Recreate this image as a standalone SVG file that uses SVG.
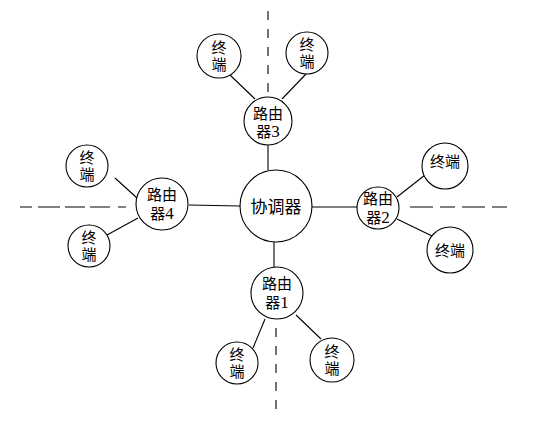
<svg xmlns="http://www.w3.org/2000/svg" width="545" height="422" viewBox="0 0 545 422">
<style>
.n{fill:#fff;stroke:#000;stroke-width:1.1}
.l{stroke:#000;stroke-width:1.1;fill:none}
.d{stroke:#000;stroke-width:1.1;fill:none;stroke-dasharray:9 9}
text{font-family:"Liberation Serif","Noto Sans CJK SC",serif;font-size:15px;fill:#000;text-anchor:middle}
.big{font-size:17px}
.num{font-size:17px}
</style>
<rect width="545" height="422" fill="#fff"/>
<g id="connectors">
<line class="d" x1="268" y1="11" x2="268" y2="95"/>
<line class="d" x1="276" y1="328" x2="276" y2="416"/>
<path class="l" d="M20 207h12M38 207h22M65 207h20M90 207h20M118 207h8"/>
<path class="l" d="M410 207h23M440 207h15M462 207h23M492 207h15"/>
<line class="l" x1="268" y1="145" x2="268" y2="170"/>
<line class="l" x1="189" y1="205" x2="240" y2="206"/>
<line class="l" x1="312" y1="207" x2="357" y2="207"/>
<line class="l" x1="274" y1="242" x2="274" y2="267"/>
<line class="l" x1="230" y1="75" x2="255" y2="99"/>
<line class="l" x1="306" y1="74" x2="282" y2="99"/>
<line class="l" x1="115" y1="178" x2="137" y2="198"/>
<line class="l" x1="107" y1="235" x2="138" y2="218"/>
<line class="l" x1="397" y1="197" x2="425" y2="175"/>
<line class="l" x1="397" y1="219" x2="432" y2="236"/>
<line class="l" x1="265" y1="319" x2="253" y2="348"/>
<line class="l" x1="296" y1="315" x2="321" y2="339"/>
</g>
<g id="coordinator"><circle class="n" cx="276" cy="206" r="36"/><text class="big" x="276" y="213">协调器</text></g>
<g id="router3"><circle class="n" cx="268" cy="121" r="24"/><text x="268" y="119">路由</text><text x="268" y="137">器<tspan class="num">3</tspan></text></g>
<g id="router4"><circle class="n" cx="162" cy="204" r="26"/><text x="162" y="200">路由</text><text x="162" y="219">器<tspan class="num">4</tspan></text></g>
<g id="router2"><circle class="n" cx="378" cy="208" r="21"/><text x="378" y="204">路由</text><text x="378" y="223">器<tspan class="num">2</tspan></text></g>
<g id="router1"><circle class="n" cx="277" cy="293" r="26"/><text x="277" y="289">路由</text><text x="277" y="308">器<tspan class="num">1</tspan></text></g>
<g id="term3a"><circle class="n" cx="219" cy="56" r="22"/><text x="219" y="53">终</text><text x="219" y="70">端</text></g>
<g id="term3b"><circle class="n" cx="307" cy="53" r="21"/><text x="307" y="50">终</text><text x="307" y="67">端</text></g>
<g id="term4a"><circle class="n" cx="87" cy="166" r="21"/><text x="87" y="163">终</text><text x="87" y="180">端</text></g>
<g id="term4b"><circle class="n" cx="89" cy="246" r="21"/><text x="89" y="243">终</text><text x="89" y="260">端</text></g>
<g id="term2a"><circle class="n" cx="445" cy="166" r="23"/><text x="445" y="167">终端</text></g>
<g id="term2b"><circle class="n" cx="450" cy="250" r="23"/><text x="450" y="256">终端</text></g>
<g id="term1a"><circle class="n" cx="237" cy="363" r="21"/><text x="237" y="360">终</text><text x="237" y="377">端</text></g>
<g id="term1b"><circle class="n" cx="332" cy="360" r="22"/><text x="332" y="357">终</text><text x="332" y="374">端</text></g>
</svg>
